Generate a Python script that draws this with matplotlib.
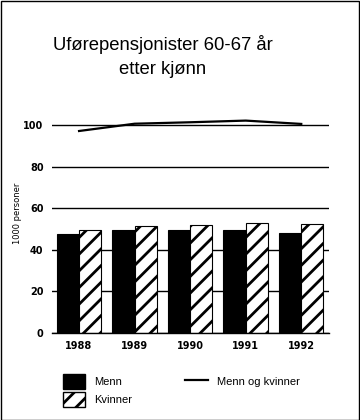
import matplotlib
matplotlib.use("Agg")
import matplotlib.pyplot as plt
import numpy as np
from matplotlib.patches import Patch, Rectangle
from matplotlib.lines import Line2D

plt.rcParams['font.family'] = ['Liberation Sans', 'DejaVu Sans']
plt.rcParams['hatch.linewidth'] = 2.0

# data (1000 personer)
years = ['1988', '1989', '1990', '1991', '1992']
menn = [47.6, 49.5, 49.5, 49.5, 48.1]
kvinner = [49.5, 51.4, 51.9, 52.9, 52.4]
begge = [97.1, 100.6, 101.3, 102.1, 100.5]

fig = plt.figure(figsize=(3.6, 4.2), dpi=100)
ax = fig.add_axes([0.144, 0.207, 0.77, 0.545])

x = np.arange(len(years))
w = 0.4
ax.bar(x - w / 2, menn, w, color='black', edgecolor='black', linewidth=0.8, zorder=2)
ax.bar(x + w / 2, kvinner, w, color='white', edgecolor='black', hatch='//',
       linewidth=0.8, zorder=2)
ax.plot(x, begge, color='black', linewidth=1.6, zorder=3)

ax.set_xlim(-0.49, 4.5)
ax.set_ylim(0, 110)
ax.set_yticks([0, 20, 40, 60, 80, 100])
ax.yaxis.grid(True, color='black', linewidth=1)
ax.set_axisbelow(True)
for s in ['top', 'right', 'left']:
    ax.spines[s].set_visible(False)
ax.spines['bottom'].set_linewidth(1)
ax.set_xticks(x)
ax.set_xticklabels(years)
ax.tick_params(length=0, labelsize=7, pad=6)
for lab in ax.get_xticklabels() + ax.get_yticklabels():
    lab.set_family('DejaVu Sans')
    lab.set_fontweight('bold')

fig.text(17 / 360, 1 - 213 / 420, '1000 personer', rotation=90, fontsize=6,
         family='DejaVu Sans', ha='center', va='center')

fig.text(163 / 360, 1 - 45 / 420, 'Uførepensjonister 60-67 år', fontsize=13.3,
         ha='center', va='center')
fig.text(163 / 360, 1 - 69 / 420, 'etter kjønn', fontsize=13.3,
         ha='center', va='center')

handles = [Patch(facecolor='black', edgecolor='black'),
           Patch(facecolor='white', edgecolor='black', hatch='//'),
           Line2D([], [], color='black', linewidth=1.6)]
labels = ['Menn', 'Kvinner', 'Menn og kvinner']
fig.legend(handles, labels, ncol=2, loc='upper left',
           bbox_to_anchor=(53 / 360, 1 - 364 / 420), frameon=False,
           fontsize=8, handlelength=2.0, handleheight=1.7,
           columnspacing=4.8, labelspacing=0.3, handletextpad=0.8)

fig.add_artist(Rectangle((0.5 / 360, 0.5 / 420), 358.5 / 360, 418.5 / 420,
                         transform=fig.transFigure, fill=False,
                         edgecolor='black', linewidth=1))

fig.savefig('out.png', dpi=100)
